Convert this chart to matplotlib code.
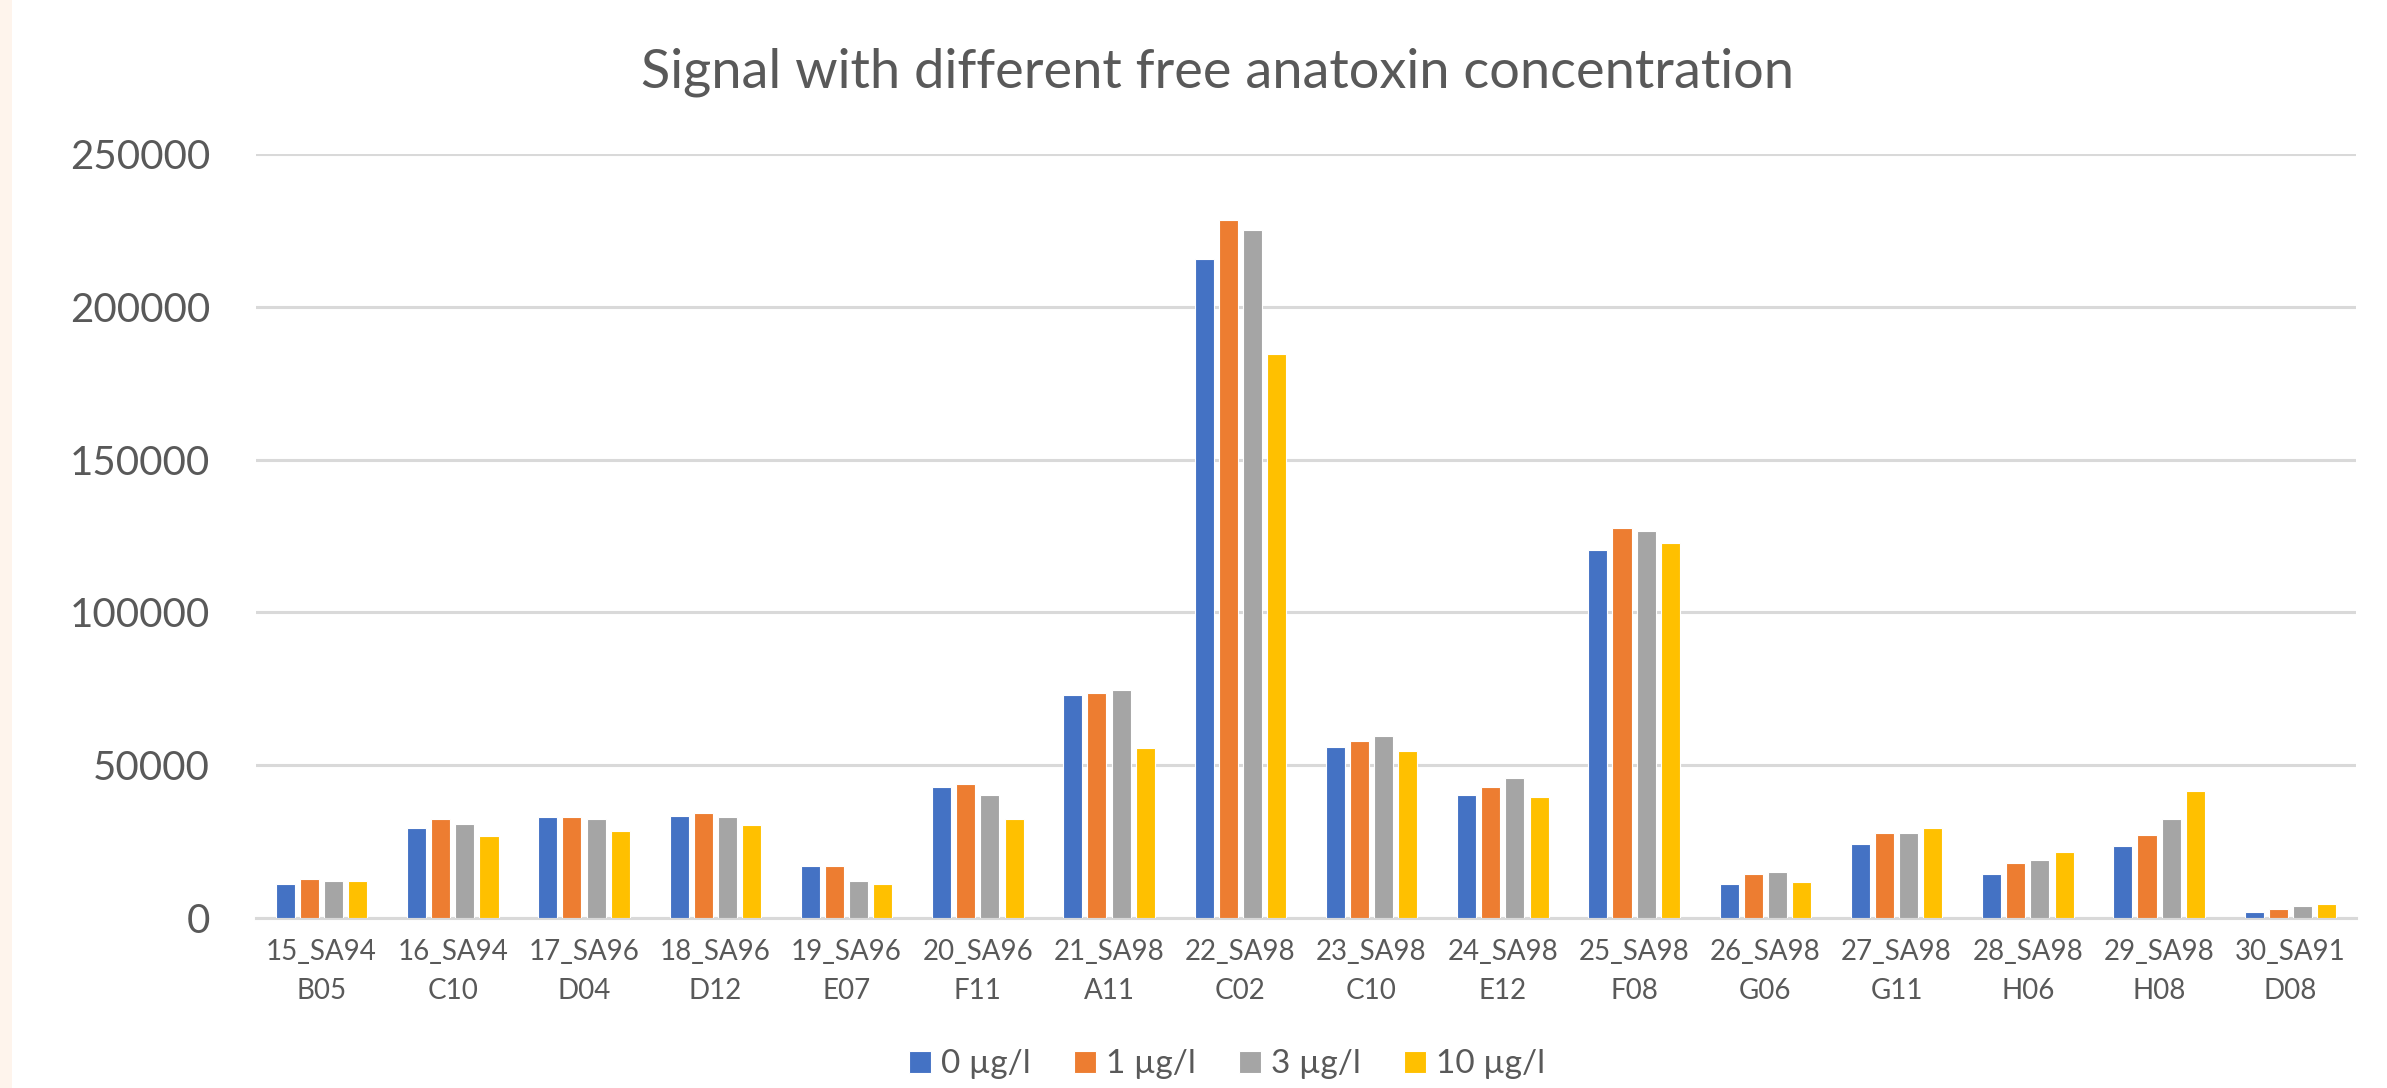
import numpy as np
import matplotlib
matplotlib.use("Agg")
import matplotlib.pyplot as plt
from matplotlib.patches import Rectangle

plt.rcParams['font.family'] = ['Lato', 'DejaVu Sans']

# data
samples = ['15_SA94\nB05', '16_SA94\nC10', '17_SA96\nD04', '18_SA96\nD12',
           '19_SA96\nE07', '20_SA96\nF11', '21_SA98\nA11', '22_SA98\nC02',
           '23_SA98\nC10', '24_SA98\nE12', '25_SA98\nF08', '26_SA98\nG06',
           '27_SA98\nG11', '28_SA98\nH06', '29_SA98\nH08', '30_SA91\nD08']
conc_0 = [11200, 29400, 33100, 33500, 17000, 42800, 73100, 215500,
          56100, 40100, 120300, 11200, 24100, 14300, 23400, 1900]
conc_1 = [12800, 32500, 33100, 34500, 17000, 43900, 73600, 228300,
          58000, 42700, 127500, 14500, 27700, 17900, 27100, 2900]
conc_3 = [12200, 30900, 32500, 33100, 12200, 40300, 74700, 225200,
          59700, 45700, 126500, 14900, 27800, 18900, 32400, 3900]
conc_10 = [12200, 26900, 28300, 30500, 11200, 32500, 55500, 184500,
           54500, 39500, 122800, 11700, 29300, 21500, 41600, 4500]
series_names = ['0 µg/l', '1 µg/l', '3 µg/l', '10 µg/l']
colors = ['#4472C4', '#ED7D31', '#A5A5A5', '#FFC000']
yticks = [0, 50000, 100000, 150000, 200000, 250000]

txt = '#595959'
grid = '#D9D9D9'

fig = plt.figure(figsize=(23.87, 10.88), dpi=100)
# pale strip on the left edge
fig.patches.append(Rectangle((0, 0), 12 / 2387, 1, transform=fig.transFigure,
                             facecolor='#FEF4EC', edgecolor='none'))
ax = fig.add_axes([0.1072, 0.1563, 0.8798, 0.7022])

x = np.arange(len(samples))
pitch = 0.184
width = 0.145
all_series = [conc_0, conc_1, conc_3, conc_10]
for i, vals in enumerate(all_series):
    ax.bar(x + (i - 1.5) * pitch, vals, width, color=colors[i],
           edgecolor='white', linewidth=0.8, label=series_names[i], zorder=3)

ax.set_xlim(-0.5, len(samples) - 0.5)
ax.set_ylim(0, 250000)
ax.set_yticks(yticks)
ax.set_yticklabels([str(v) for v in yticks])
ax.set_xticks(x)
ax.set_xticklabels(samples, linespacing=1.65)
ax.yaxis.grid(True, color=grid, linewidth=2.2, zorder=0)
ax.set_axisbelow(True)
for s in ['top', 'right', 'left']:
    ax.spines[s].set_visible(False)
ax.spines['bottom'].set_color(grid)
ax.spines['bottom'].set_linewidth(2.2)
ax.tick_params(axis='y', length=0, labelsize=29, labelcolor=txt, pad=33)
ax.tick_params(axis='x', length=0, labelsize=20, labelcolor=txt, pad=15)

fig.text(0.51, 0.934, 'Signal with different free anatoxin concentration',
         ha='center', va='center', fontsize=39, color=txt)

leg = fig.legend(loc='center', bbox_to_anchor=(0.514, 0.0216), ncol=4,
                 frameon=False, fontsize=24, handlelength=0.66, handleheight=0.66,
                 handletextpad=0.3, columnspacing=1.3, borderpad=0)
for t in leg.get_texts():
    t.set_color(txt)

fig.savefig('out.png', dpi=100)
